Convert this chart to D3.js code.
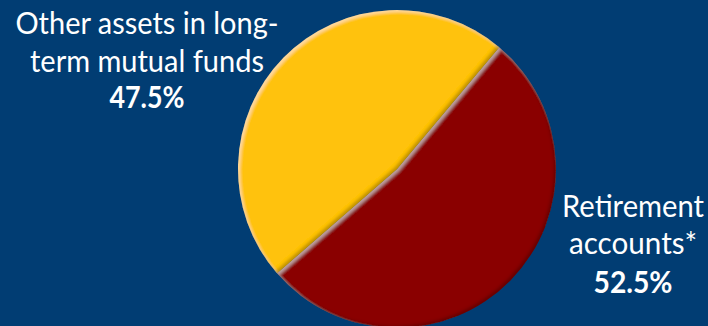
<!DOCTYPE html>
<html><head><meta charset="utf-8">
<script src="https://cdn.jsdelivr.net/npm/d3@7"></script>
<style>
html,body{margin:0;padding:0;background:#013d73;overflow:hidden;}
svg{display:block;}
</style></head>
<body>
<svg id="chart" width="708" height="326"></svg>
<script>
const categories = ["Retirement accounts*", "Other assets in long-term mutual funds"];
const values = [52.5, 47.5];
const labelLines = [["Retirement", "accounts*"], ["Other assets in long-", "term mutual funds"]];
const valueLabels = ["52.5%", "47.5%"];
const colors = ["#8a0304", "#ffc20f"];

const W = 708, H = 326;
const svg = d3.select("#chart");
svg.append("rect").attr("width", W).attr("height", H).attr("fill", "#013d73");

const defs = svg.append("defs");
const f = defs.append("filter").attr("id", "bevel").attr("x", "-10%").attr("y", "-10%").attr("width", "120%").attr("height", "120%");
f.append("feGaussianBlur").attr("in", "SourceAlpha").attr("stdDeviation", 1.6).attr("result", "b");
f.append("feOffset").attr("in", "b").attr("dx", 2.2).attr("dy", 2.2).attr("result", "o1");
f.append("feComposite").attr("in", "SourceAlpha").attr("in2", "o1").attr("operator", "out").attr("result", "hl");
f.append("feFlood").attr("flood-color", "#ffffff").attr("flood-opacity", 0.35).attr("result", "fw");
f.append("feComposite").attr("in", "fw").attr("in2", "hl").attr("operator", "in").attr("result", "hlc");
f.append("feOffset").attr("in", "b").attr("dx", -2.2).attr("dy", -2.2).attr("result", "o2");
f.append("feComposite").attr("in", "SourceAlpha").attr("in2", "o2").attr("operator", "out").attr("result", "sh");
f.append("feFlood").attr("flood-color", "#000000").attr("flood-opacity", 0.45).attr("result", "fb");
f.append("feComposite").attr("in", "fb").attr("in2", "sh").attr("operator", "in").attr("result", "shc");
const m = f.append("feMerge");
m.append("feMergeNode").attr("in", "SourceGraphic");
m.append("feMergeNode").attr("in", "hlc");
m.append("feMergeNode").attr("in", "shc");

const cx = 397, cy = 169, r = 159;
const start = 40 * Math.PI / 180;
const pie = d3.pie().sort(null).startAngle(start).endAngle(start + 2 * Math.PI);
const arc = d3.arc().innerRadius(0).outerRadius(r);
const arcs = pie(values);

const g = svg.append("g").attr("transform", `translate(${cx},${cy})`);
g.selectAll("path").data(arcs).join("path")
  .attr("d", arc)
  .attr("fill", (d, i) => colors[i])
  .attr("filter", "url(#bevel)");

const font = "Lato, 'Open Sans', sans-serif";
// label specs: [centerX, baselines], widths
const labelPos = [
  {x: 633, ys: [217, 254, 293], widths: [142, 128, 79]},
  {x: 147, ys: [34, 72, 108], widths: [263, 234, 75]}
];
labelLines.forEach((lines, i) => {
  const p = labelPos[i];
  const all = lines.concat([valueLabels[i]]);
  all.forEach((t, j) => {
    const bold = j === all.length - 1;
    svg.append("text")
      .attr("x", p.x).attr("y", p.ys[j])
      .attr("text-anchor", "middle")
      .attr("font-family", font)
      .attr("font-size", 30)
      .attr("font-weight", bold ? 700 : 400)
      .attr("fill", "#ffffff")
      .attr("textLength", p.widths[j])
      .attr("lengthAdjust", "spacingAndGlyphs")
      .text(t);
  });
});
</script>
</body></html>
